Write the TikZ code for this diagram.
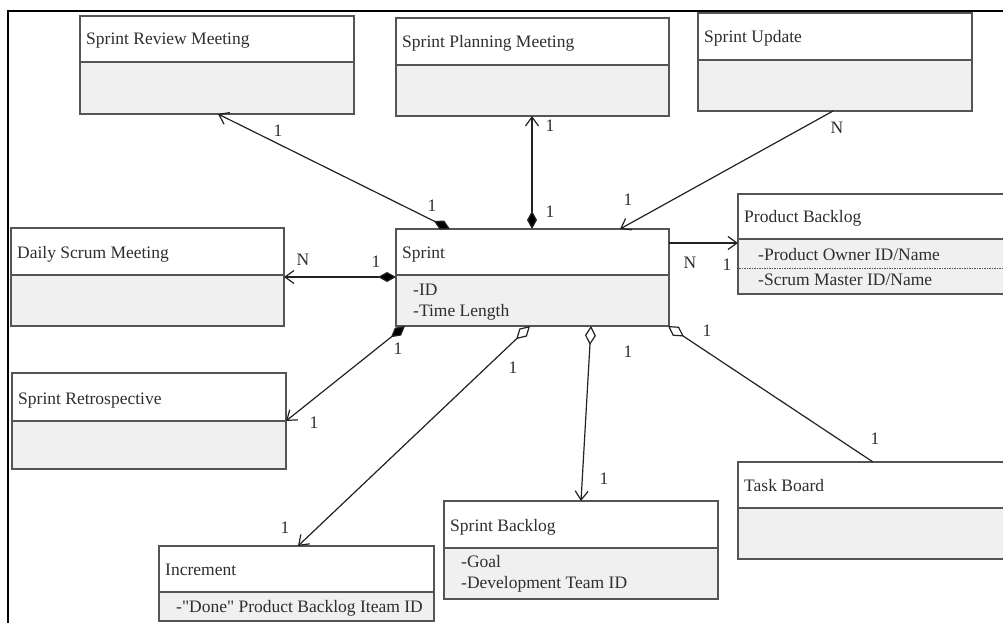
\documentclass[tikz,border=0pt]{standalone}
\usepackage{fontspec}
\setmainfont{Liberation Serif}
\usetikzlibrary{arrows.meta,calc}

\definecolor{edgegrey}{HTML}{555555}
\definecolor{compart}{HTML}{F0F0F0}
\definecolor{ink}{HTML}{2E2E2E}
\definecolor{wire}{HTML}{222222}

\tikzset{
  classframe/.style={draw=edgegrey, line width=1.6pt, rectangle, inner sep=0pt, outer sep=0pt, anchor=north west},
  divider/.style={draw=edgegrey, line width=1.6pt},
  txt/.style={font=\fontsize{17.5}{21}\selectfont, text=ink, inner sep=0pt, anchor=base west},
  mult/.style={font=\fontsize{17.5}{21}\selectfont, text=ink, inner sep=0pt},
  assoc/.style={draw=wire, line width=1.2pt},
  barb/.style={-{Straight Barb[length=9pt,width=13pt,line width=1.2pt]}},
  comp/.style={{Diamond[length=18pt,width=10pt,fill=black]}-{Straight Barb[length=9pt,width=13pt,line width=1.2pt]}},
  aggr/.style={{Diamond[open,length=19pt,width=11pt,fill=white,line width=1.2pt]}-{Straight Barb[length=9pt,width=13pt,line width=1.2pt]}},
  aggrplain/.style={{Diamond[open,length=19pt,width=11pt,fill=white,line width=1.2pt]}-},
}

% class box: name, x1, y1, x2, y2, y of divider, title
\newcommand\umlclass[7]{%
  \node[classframe, fill=white, minimum width={(#4-#2)*1pt}, minimum height={(#5-#3)*1pt}] (#1) at (#2,#3) {};
  \fill[compart] ({#2+0.8},#6) rectangle ({#4-0.8},{#5-0.8});
  \draw[divider] (#2,#6) -- (#4,#6);
  \node[txt] (#1-title) at ({#2+6},{#6-17}) {#7};
}

\begin{document}
\begin{tikzpicture}[x=1pt,y=-1pt]
\useasboundingbox (0,0) rectangle (1003,623);
\clip (0,0) rectangle (1003,623);
\fill[white] (0,0) rectangle (1003,623);

% outer frame (left and top edges)
\draw[black, line width=2pt] (8,630) -- (8,11) -- (1010,11);

% classes
\umlclass{review}{80}{16}{354}{114}{62}{Sprint Review Meeting}
\umlclass{planning}{396}{18}{669}{116}{65}{Sprint Planning Meeting}
\umlclass{update}{698}{13}{972}{111}{60}{Sprint Update}
\umlclass{pbacklog}{738}{194}{1012}{294}{239}{Product Backlog}
\umlclass{daily}{11}{228}{284}{326}{275}{Daily Scrum Meeting}
\umlclass{sprint}{396}{229}{669}{326}{275}{Sprint}
\umlclass{retro}{12}{373}{286}{469}{421}{Sprint Retrospective}
\umlclass{increment}{159}{546}{434}{621}{592}{Increment}
\umlclass{sbacklog}{444}{501}{718}{599}{548}{Sprint Backlog}
\umlclass{taskboard}{738}{462}{1012}{559}{508}{Task Board}

% attributes
\node[txt] (sprint-a1) at (413,295) {-ID};
\node[txt] (sprint-a2) at (413,316) {-Time Length};
\node[txt] (pb-a1) at (758,260) {-Product Owner ID/Name};
\draw[edgegrey, line width=0.9pt, dash pattern=on 1.5pt off 1pt] (739,268) -- (1003,268);
\node[txt] (pb-a2) at (758,285) {-Scrum Master ID/Name};
\node[txt] (sb-a1) at (461,567) {-Goal};
\node[txt] (sb-a2) at (461,588) {-Development Team ID};
\node[txt] (inc-a1) at (176,612) {-\textquotedbl Done\textquotedbl{} Product Backlog Iteam ID};

% associations
\draw[assoc, comp] ($(sprint.north west)+(54,0)$) -- ($(review.south west)+(138,0)$);
\draw[assoc, comp] ($(sprint.north west)+(136,0)$) -- ($(planning.south west)+(136,0)$);
\draw[assoc, barb] ($(update.south west)+(135,0)$) -- ($(sprint.north west)+(224,0)$);
\draw[assoc, barb] ($(sprint.north east)+(0,14)$) -- ($(pbacklog.north west)+(0,49)$);
\draw[assoc, comp] ($(sprint.north west)+(0,48)$) -- ($(daily.north east)+(0,49)$);
\draw[assoc, comp] ($(sprint.south west)+(9,0)$) -- ($(retro.north east)+(0,48)$);
\draw[assoc, aggr] ($(sprint.south west)+(134,0)$) -- ($(increment.north west)+(139,0)$);
\draw[assoc, aggr] ($(sprint.south west)+(195,0)$) -- ($(sbacklog.north west)+(137,0)$);
\draw[assoc, aggrplain] ($(sprint.south east)+(-1,0)$) -- ($(taskboard.north west)+(135,0)$);

% multiplicities
\node[mult] (m-rev-a) at (278,131) {1};
\node[mult] (m-rev-b) at (432,206) {1};
\node[mult] (m-plan-a) at (550,126) {1};
\node[mult] (m-plan-b) at (550,212) {1};
\node[mult] (m-upd-a) at (837,128) {N};
\node[mult] (m-upd-b) at (628,200) {1};
\node[mult] (m-pb-a) at (690,263) {N};
\node[mult] (m-pb-b) at (727,265) {1};
\node[mult] (m-day-a) at (303,260) {N};
\node[mult] (m-day-b) at (376,262) {1};
\node[mult] (m-ret-a) at (398,349) {1};
\node[mult] (m-ret-b) at (314,423) {1};
\node[mult] (m-inc-a) at (513,368) {1};
\node[mult] (m-inc-b) at (285,528) {1};
\node[mult] (m-sb-a) at (628,352) {1};
\node[mult] (m-sb-b) at (604,479) {1};
\node[mult] (m-tb-a) at (707,331) {1};
\node[mult] (m-tb-b) at (875,439) {1};
\end{tikzpicture}
\end{document}
